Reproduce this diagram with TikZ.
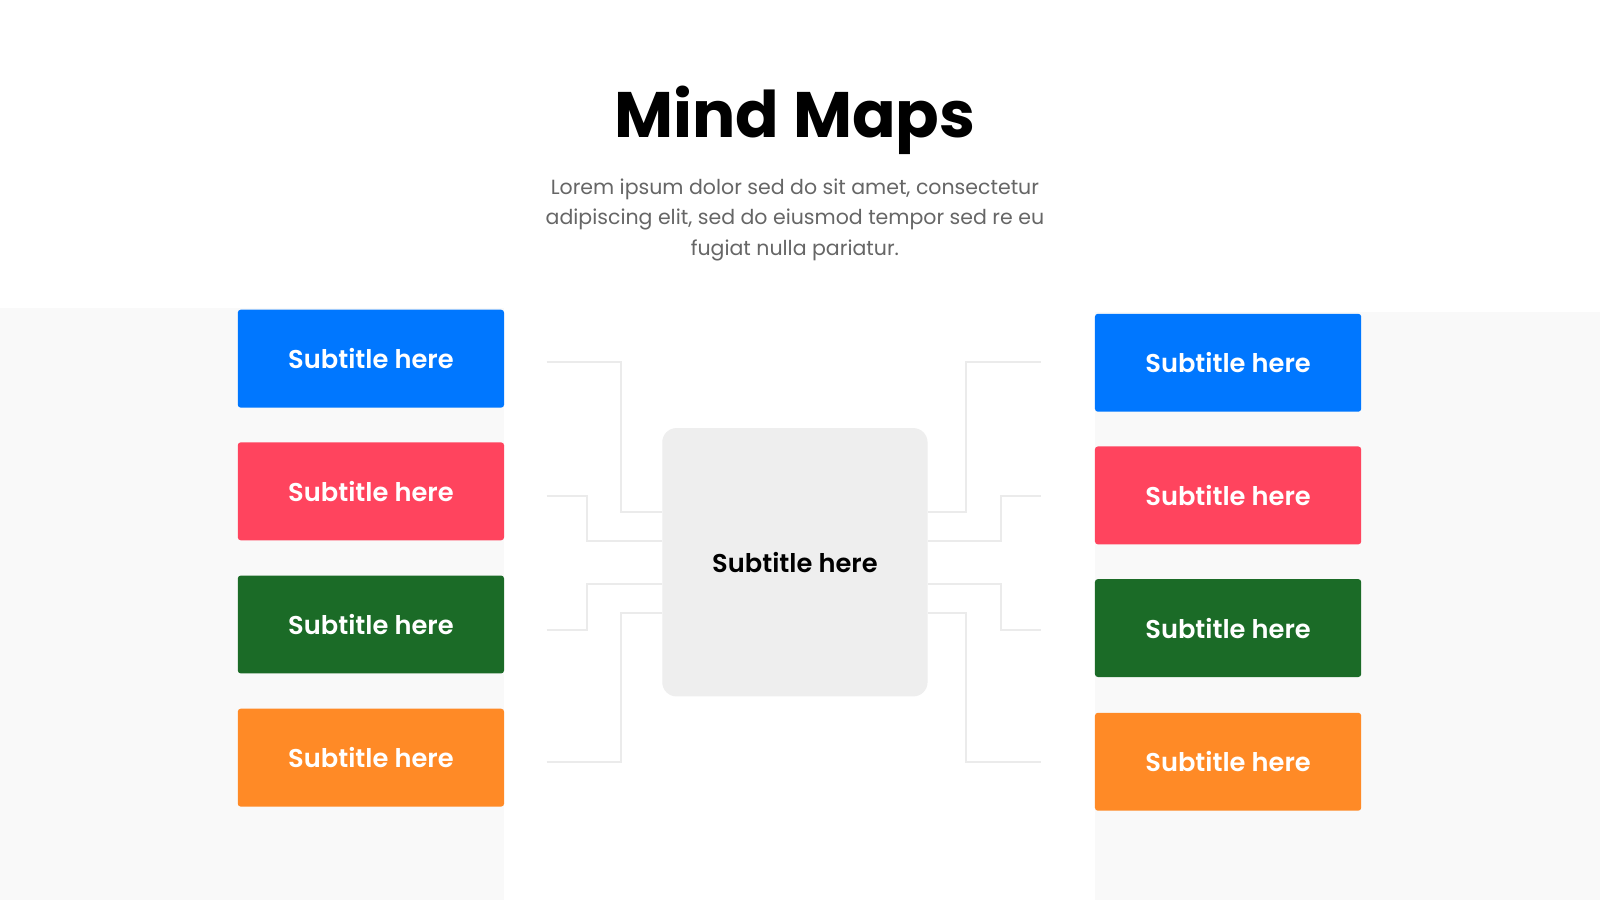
\documentclass[tikz,border=0pt]{standalone}
\usepackage{fontspec}
\usetikzlibrary{calc}
\setmainfont{Poppins}
\IfFontExistsTF{Poppins SemiBold}{\newfontfamily\labfont{Poppins SemiBold}}{\newfontfamily\labfont{Poppins}[UprightFont=*,BoldFont=*]}
\definecolor{cblue}{HTML}{0077FF}
\definecolor{cred}{HTML}{FF445E}
\definecolor{cgreen}{HTML}{1B6B27}
\definecolor{corange}{HTML}{FF8A26}
\definecolor{panel}{HTML}{F9F9F9}
\definecolor{cbox}{HTML}{EEEEEE}
\definecolor{lineg}{HTML}{EBEBEB}
\definecolor{bodyg}{HTML}{666666}
\tikzset{
  sbox/.style={minimum width=130.5pt, minimum height=48pt, rounded corners=1.5pt, inner sep=0pt,
    text=white, font=\labfont\fontsize{12.6}{15}\selectfont},
  conn/.style={draw=lineg, line width=1pt},
}
\begin{document}
\begin{tikzpicture}[x=0.5pt,y=-0.5pt]
\useasboundingbox (0,0) rectangle (1568,882);
\fill[white] (0,0) rectangle (1568,882);
\fill[panel] (0,302) rectangle (494,882);
\fill[panel] (1073,306) rectangle (1568,882);

\node[anchor=base, font=\bfseries\fontsize{31.5}{36}\selectfont] (title) at (779,135) {Mind Maps};
\node[align=center, text=bodyg, font=\fontsize{10.05}{15}\selectfont] (body) at (779,215.5)
  {Lorem ipsum dolor sed do sit amet, consectetur\\adipiscing elit, sed do eiusmod tempor sed re eu\\fugiat nulla pariatur.};

\node[minimum width=130pt, minimum height=131.5pt, rounded corners=7pt, fill=cbox, inner sep=0pt,
  font=\labfont\fontsize{12.6}{15}\selectfont] (center) at (779,551) {Subtitle here};

\coordinate (la) at (536,355);
\coordinate (lb) at (536,486);
\coordinate (lc) at (536,617);
\coordinate (ld) at (536,747);
\coordinate (ra) at (1020,355);
\coordinate (rb) at (1020,486);
\coordinate (rc) at (1020,617);
\coordinate (rd) at (1020,747);

\draw[conn] (la) -| (609,502) -- ($(center.west)+(0,-49)$);
\draw[conn] (lb) -| (575,530) -- ($(center.west)+(0,-21)$);
\draw[conn] (lc) -| (575,572) -- ($(center.west)+(0,21)$);
\draw[conn] (ld) -| (609,601) -- ($(center.west)+(0,50)$);
\draw[conn] (ra) -| (947,502) -- ($(center.east)+(0,-49)$);
\draw[conn] (rb) -| (981,530) -- ($(center.east)+(0,-21)$);
\draw[conn] (rc) -| (981,572) -- ($(center.east)+(0,21)$);
\draw[conn] (rd) -| (947,601) -- ($(center.east)+(0,50)$);

\node[sbox, fill=cblue] (l1) at (363.5,351.5) {Subtitle here};
\node[sbox, fill=cred] (l2) at (363.5,481.5) {Subtitle here};
\node[sbox, fill=cgreen] (l3) at (363.5,612) {Subtitle here};
\node[sbox, fill=corange] (l4) at (363.5,742.5) {Subtitle here};
\node[sbox, fill=cblue] (r1) at (1203.5,355.5) {Subtitle here};
\node[sbox, fill=cred] (r2) at (1203.5,485.5) {Subtitle here};
\node[sbox, fill=cgreen] (r3) at (1203.5,615.5) {Subtitle here};
\node[sbox, fill=corange] (r4) at (1203.5,746.5) {Subtitle here};
\end{tikzpicture}
\end{document}
